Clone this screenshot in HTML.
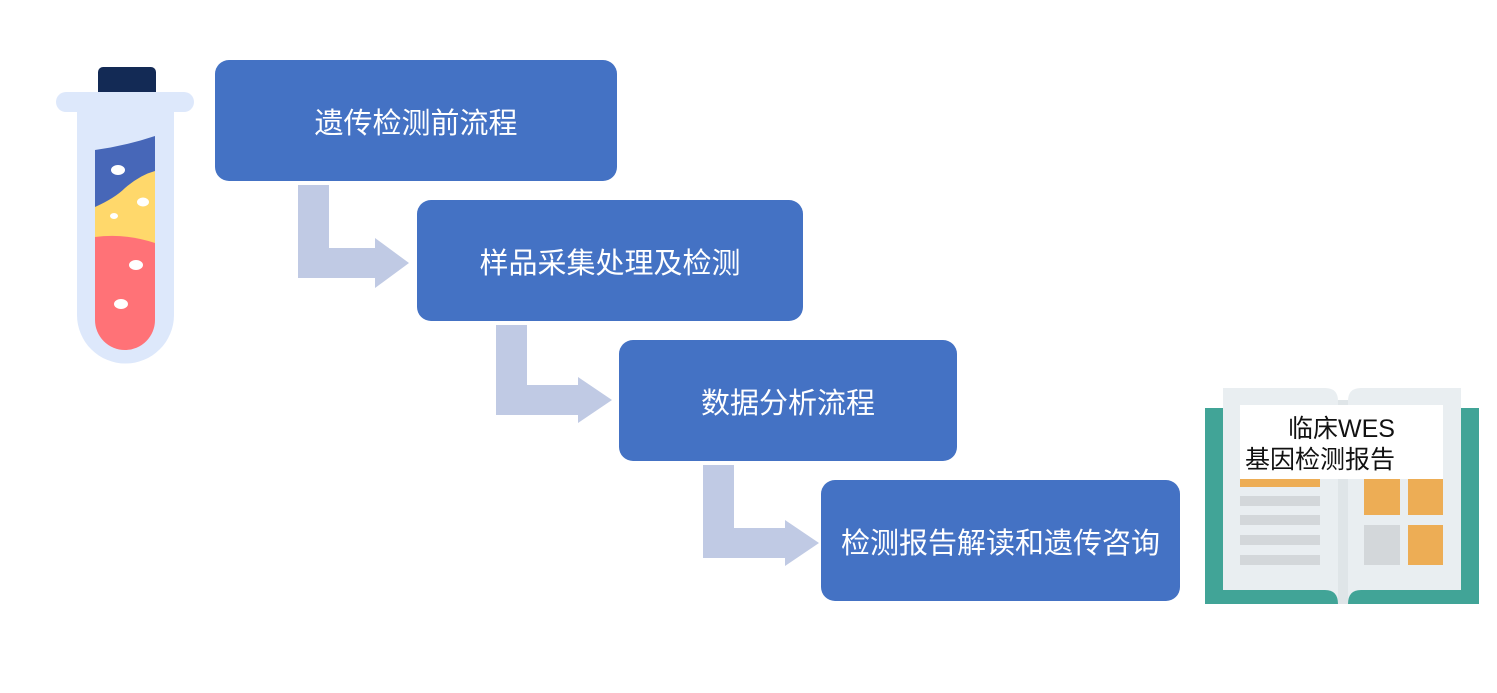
<!DOCTYPE html>
<html><head><meta charset="utf-8"><style>
body{margin:0;width:1497px;height:693px;background:#fff;position:relative;overflow:hidden;font-family:"Liberation Sans","Noto Sans CJK SC",sans-serif}
.b{position:absolute;background:#4472C4;border-radius:14px;color:#fff;font-size:29px;display:flex;align-items:center;justify-content:center}
</style></head><body>
<svg width="1497" height="693" style="position:absolute;left:0;top:0">
<g fill="#C0CAE4">
<polygon points="298,185 329,185 329,248 375,248 375,238 409,263 375,288 375,278 298,278"/>
<polygon points="496,325 527,325 527,385 578,385 578,377 612,400 578,423 578,415 496,415"/>
<polygon points="703,465 734,465 734,528 785,528 785,520 819,543 785,566 785,558 703,558"/>
</g>
<rect x="98" y="67" width="58" height="32" rx="5" fill="#132a55"/>
<rect x="56" y="92" width="138" height="20" rx="10" fill="#DDE8FB"/>
<path d="M77,105 H174 V315 A48.5,48.5 0 0 1 77,315 Z" fill="#DDE8FB"/>
<clipPath id="c"><path d="M95,120 H155 V320 A30,30 0 0 1 95,320 Z"/></clipPath>
<g clip-path="url(#c)">
<path d="M95,150 Q125,146 155,136 V250 H95 Z" fill="#4767B8"/>
<path d="M95,207 Q115,198 125,188 Q140,175 155,171 V250 H95 Z" fill="#FFD86B"/>
<path d="M95,237 Q125,233 155,243 V360 H95 Z" fill="#FF7277"/>
</g>
<g fill="#fff"><ellipse cx="118" cy="170" rx="7" ry="5"/><ellipse cx="143" cy="202" rx="6" ry="4.5"/><ellipse cx="114" cy="216" rx="4" ry="3"/><ellipse cx="136" cy="265" rx="7" ry="5"/><ellipse cx="121" cy="304" rx="7" ry="5"/></g>
<rect x="1205" y="408" width="274" height="196" fill="#41A497"/>
<path d="M1223,388 H1325 Q1338,388 1338,401 V604 Q1338,590 1325,590 H1223 Z" fill="#E9EEF1"/>
<path d="M1348,401 Q1348,388 1361,388 H1461 V590 H1361 Q1348,590 1348,604 Z" fill="#E9EEF1"/>
<rect x="1338" y="400" width="10" height="204" fill="#DFE5E8"/>
<rect x="1240" y="479" width="80" height="8" fill="#EDAD55"/>
<g fill="#D3D7DA"><rect x="1240" y="496" width="80" height="10"/><rect x="1240" y="515" width="80" height="10"/><rect x="1240" y="535" width="80" height="10"/><rect x="1240" y="555" width="80" height="10"/><rect x="1364" y="525" width="36" height="40"/></g>
<g fill="#EDAD55"><rect x="1364" y="479" width="36" height="36"/><rect x="1408" y="479" width="35" height="36"/><rect x="1408" y="525" width="35" height="40"/></g>
<rect x="1240" y="405" width="203" height="74" fill="#fff"/>
<text x="1288" y="437" font-size="25" fill="#111" font-family="Liberation Sans,Noto Sans CJK SC,sans-serif">临床WES</text>
<text x="1245" y="468" font-size="25" fill="#111" font-family="Liberation Sans,Noto Sans CJK SC,sans-serif">基因检测报告</text>
</svg>
<div class="b" style="left:215px;top:60px;width:402px;height:121px">遗传检测前流程</div>
<div class="b" style="left:417px;top:200px;width:386px;height:121px">样品采集处理及检测</div>
<div class="b" style="left:619px;top:340px;width:338px;height:121px">数据分析流程</div>
<div class="b" style="left:821px;top:480px;width:359px;height:121px">检测报告解读和遗传咨询</div>
</body></html>
